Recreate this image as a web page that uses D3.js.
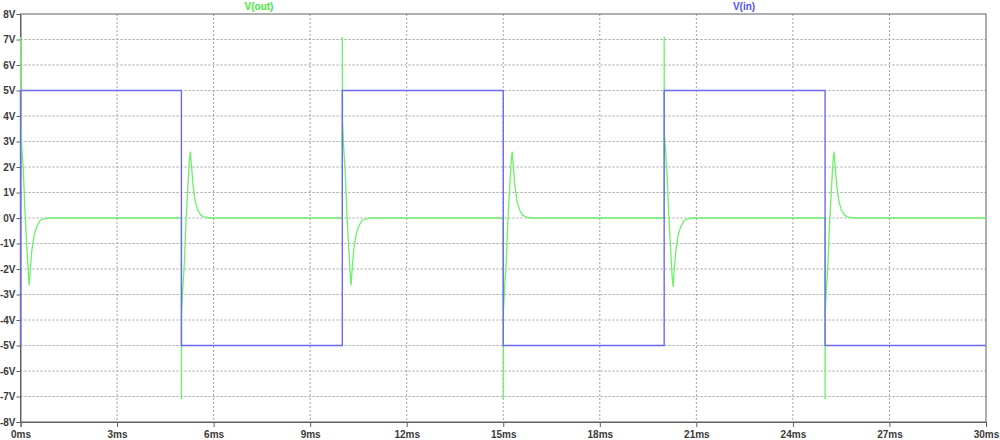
<!DOCTYPE html>
<html>
<head>
<meta charset="utf-8">
<script src="https://cdn.jsdelivr.net/npm/d3@7"></script>
<style>
  body { margin: 0; background: #fff; }
  svg { display: block; font-family: "Liberation Sans", Arial, sans-serif; }
</style>
</head>
<body>
<div id="chart"></div>
<script>
// tick values
const timeTicks = [0, 3, 6, 9, 12, 15, 18, 21, 24, 27, 30];
const voltTicks = [-8, -7, -6, -5, -4, -3, -2, -1, 0, 1, 2, 3, 4, 5, 6, 7, 8];

// V(in): square wave, [ms, V]
const vin = [
  [0, -5], [0, 5], [5, 5], [5, -5], [10, -5], [10, 5], [15, 5], [15, -5],
  [20, -5], [20, 5], [25, 5], [25, -5], [30, -5]
];

// V(out): spikes at every edge, [ms, V]
const vout = [
  [0, 7.1], [0.005, 3.7], [0.04, 2.8], [0.09, 1.8], [0.14, 0.2], [0.2, -1.2], [0.25, -2.3],
  [0.27, -2.65], [0.3, -2.1], [0.35, -1.3], [0.42, -0.7], [0.5, -0.35], [0.6, -0.12],
  [0.72, -0.03], [0.9, 0],
  [5, 0], [5, -7.1], [5.005, -3.7], [5.04, -2.8], [5.09, -1.8], [5.14, -0.2], [5.2, 1.2],
  [5.25, 2.3], [5.28, 2.6], [5.31, 2.1], [5.36, 1.3], [5.43, 0.65], [5.51, 0.3],
  [5.61, 0.1], [5.73, 0.03], [5.9, 0],
  [10, 0], [10, 7.1], [10.005, 3.8], [10.04, 2.8], [10.09, 1.8], [10.14, 0.2], [10.2, -1.2],
  [10.25, -2.3], [10.27, -2.65], [10.3, -2.1], [10.35, -1.3], [10.42, -0.7], [10.5, -0.35],
  [10.6, -0.12], [10.72, -0.03], [10.9, 0],
  [15, 0], [15, -7.1], [15.005, -3.7], [15.04, -2.8], [15.09, -1.8], [15.14, -0.2], [15.2, 1.2],
  [15.25, 2.3], [15.28, 2.6], [15.31, 2.1], [15.36, 1.3], [15.43, 0.65], [15.51, 0.3],
  [15.61, 0.1], [15.73, 0.03], [15.9, 0],
  [20, 0], [20, 7.1], [20.005, 3.3], [20.04, 2.7], [20.09, 1.7], [20.14, 0.2], [20.2, -1.2],
  [20.25, -2.35], [20.28, -2.7], [20.31, -2.1], [20.36, -1.3], [20.43, -0.7], [20.51, -0.35],
  [20.61, -0.12], [20.73, -0.03], [20.9, 0],
  [25, 0], [25, -7.1], [25.005, -3.7], [25.04, -2.8], [25.09, -1.8], [25.14, -0.2], [25.2, 1.2],
  [25.25, 2.3], [25.28, 2.6], [25.31, 2.1], [25.36, 1.3], [25.43, 0.65], [25.51, 0.3],
  [25.61, 0.1], [25.73, 0.03], [25.9, 0],
  [30, 0]
];

const margin = { top: 14, right: 14, bottom: 18, left: 20.5 };
const width = 1000 - margin.left - margin.right;
const height = 440 - margin.top - margin.bottom;

const svg = d3.select('#chart')
  .append('svg')
  .attr('width', 1000)
  .attr('height', 440);

const g = svg.append('g')
  .attr('transform', `translate(${margin.left},${margin.top})`);

const x = d3.scaleLinear().domain([0, 30]).range([0, width]);
const y = d3.scaleLinear().domain([-8, 8]).range([height, 0]);

// grid
g.append('g')
  .selectAll('line')
  .data(timeTicks.slice(1, -1))
  .join('line')
  .attr('x1', d => x(d)).attr('x2', d => x(d))
  .attr('y1', 0).attr('y2', height)
  .attr('stroke', '#a0a0a0')
  .attr('stroke-dasharray', '2,2');

g.append('g')
  .selectAll('line')
  .data(voltTicks.slice(1, -1))
  .join('line')
  .attr('x1', 0).attr('x2', width)
  .attr('y1', d => y(d)).attr('y2', d => y(d))
  .attr('stroke', '#a0a0a0')
  .attr('stroke-dasharray', '2,2');

// frame
g.append('rect')
  .attr('width', width)
  .attr('height', height)
  .attr('fill', 'none')
  .attr('stroke', '#606060');

// axes
const xAxis = g.append('g')
  .attr('transform', `translate(0,${height})`)
  .call(d3.axisBottom(x).tickValues(timeTicks).tickFormat(d => d + 'ms').tickSize(5).tickPadding(4));

const yAxis = g.append('g')
  .call(d3.axisLeft(y).tickValues(voltTicks).tickFormat(d => d + 'V').tickSize(4).tickPadding(1));

[xAxis, yAxis].forEach(a => {
  a.select('.domain').attr('stroke', '#606060');
  a.selectAll('.tick line').attr('stroke', '#606060');
  a.selectAll('.tick text')
    .attr('fill', '#3a3a3a')
    .style('font-size', '10px')
    .style('font-weight', 'bold')
    .style('font-family', '"Liberation Sans", Arial, sans-serif');
});

// series (green first, blue drawn over it)
const line = d3.line()
  .x(d => x(d[0]))
  .y(d => y(d[1]));

g.append('path')
  .datum(vout)
  .attr('d', line)
  .attr('fill', 'none')
  .attr('stroke', '#6cf06c')
  .attr('stroke-width', 1.3);

g.append('path')
  .datum(vin)
  .attr('d', line)
  .attr('fill', 'none')
  .attr('stroke', '#6a6af6')
  .attr('stroke-width', 1.4);

// trace titles
svg.append('text')
  .attr('x', 259).attr('y', 9.5)
  .attr('text-anchor', 'middle')
  .attr('fill', '#3ee83e')
  .style('font-size', '10px')
  .style('font-weight', 'bold')
  .text('V(out)');

svg.append('text')
  .attr('x', 744).attr('y', 9.5)
  .attr('text-anchor', 'middle')
  .attr('fill', '#5050ee')
  .style('font-size', '10px')
  .style('font-weight', 'bold')
  .text('V(in)');
</script>
</body>
</html>
